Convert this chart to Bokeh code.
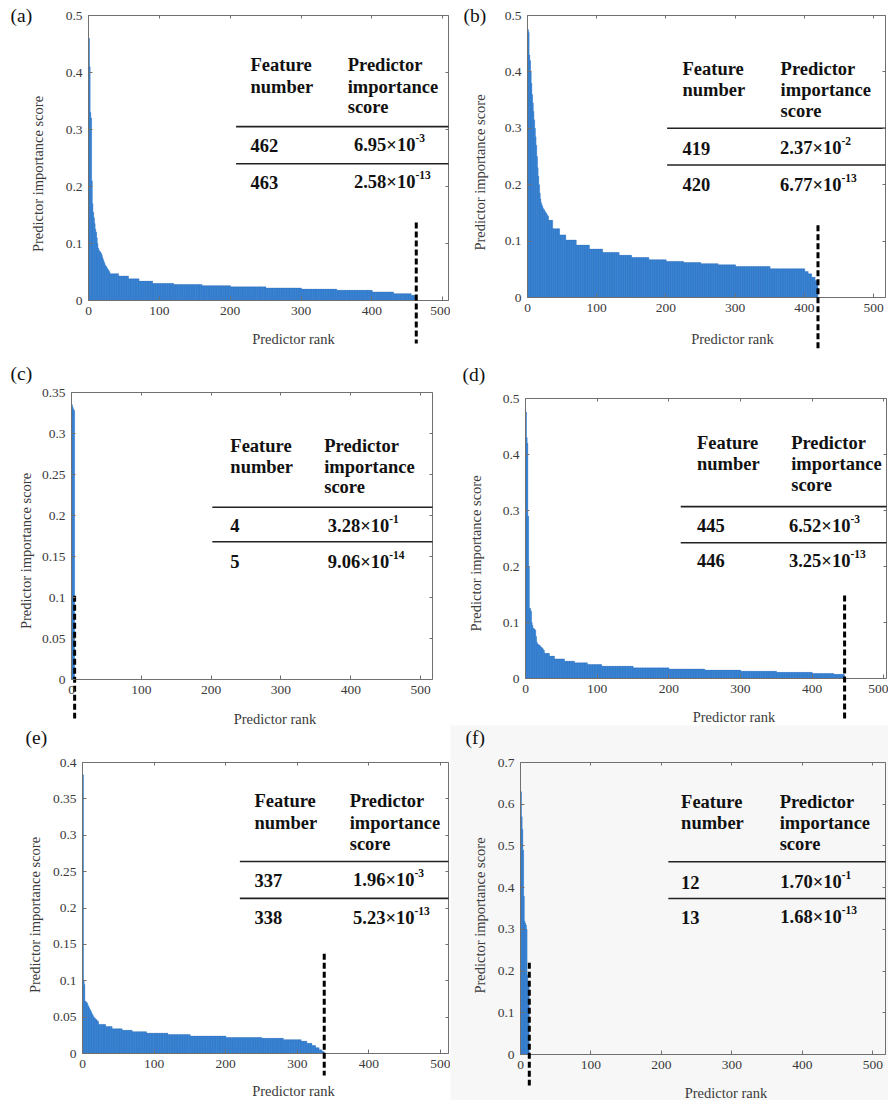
import numpy as np
from bokeh.plotting import figure
from bokeh.models import Label, LinearAxis, FixedTicker, Range1d, ColumnDataSource
from bokeh.layouts import column, row
from bokeh.embed import file_html
from bokeh.resources import INLINE

# ---------------- data ----------------
# bar heights: explicit values for the first ranks, then runs of (count, value) for the flat tail
head_a = [0.46, 0.41, 0.33, 0.32, 0.21, 0.17, 0.155, 0.145, 0.135, 0.125, 0.12, 0.11, 0.10, 0.092, 0.088,
          0.087, 0.085, 0.083, 0.08, 0.076, 0.072, 0.068, 0.065, 0.062, 0.06, 0.058, 0.056, 0.054, 0.052, 0.05]
run_counts_a = [12, 14, 15, 19, 30, 40, 40, 50, 50, 50, 50, 30, 25, 6, 1]
run_values_a = [0.047, 0.043, 0.038, 0.034, 0.030, 0.028, 0.026, 0.024, 0.022, 0.020, 0.018, 0.015, 0.012, 0.009, 0.00695]

head_b = [0.475, 0.47, 0.43, 0.42, 0.40, 0.38, 0.36, 0.345, 0.33, 0.315, 0.30, 0.285, 0.27, 0.25, 0.23,
          0.215, 0.20, 0.185, 0.175, 0.168, 0.164, 0.161, 0.158, 0.156, 0.154, 0.152, 0.150, 0.148, 0.146, 0.144]
run_counts_b = [6, 10, 9, 15, 19, 19, 24, 18, 25, 25, 25, 25, 25, 25, 50, 50, 5, 5, 5, 3, 1]
run_values_b = [0.137, 0.122, 0.111, 0.102, 0.093, 0.086, 0.080, 0.075, 0.071, 0.067, 0.064, 0.062, 0.060,
                0.058, 0.055, 0.051, 0.046, 0.042, 0.036, 0.030, 0.0237]

head_c = [0.335, 0.332, 0.330, 0.328]
run_counts_c = []
run_values_c = []

head_d = [0.476, 0.43, 0.42, 0.29, 0.2, 0.125, 0.125, 0.12, 0.10, 0.095, 0.09, 0.089, 0.088, 0.086, 0.075,
          0.065, 0.062, 0.061, 0.060, 0.059, 0.058, 0.056, 0.055, 0.054, 0.052, 0.05]
run_counts_d = [7, 7, 14, 14, 18, 20, 44, 50, 50, 50, 50, 50, 30, 14, 1]
run_values_d = [0.045, 0.040, 0.035, 0.031, 0.028, 0.025, 0.022, 0.019, 0.017, 0.015, 0.013, 0.011, 0.009,
                0.0075, 0.00652]

head_e = [0.383, 0.10, 0.095, 0.072, 0.071, 0.070, 0.069, 0.066, 0.064, 0.062, 0.060, 0.058, 0.056, 0.054,
          0.052, 0.050, 0.049, 0.048, 0.047, 0.046, 0.045, 0.044]
run_counts_e = [10, 9, 14, 14, 20, 30, 31, 50, 50, 30, 25, 8, 7, 5, 5, 4, 2, 1]
run_values_e = [0.040, 0.037, 0.034, 0.032, 0.030, 0.028, 0.026, 0.024, 0.022, 0.021, 0.019, 0.017, 0.014,
                0.011, 0.008, 0.005, 0.003, 0.00196]

head_f = [0.63, 0.57, 0.54, 0.49, 0.38, 0.32, 0.315, 0.31, 0.30, 0.19, 0.175, 0.170]
run_counts_f = []
run_values_f = []

# table contents
features_a = ["462", "463"]; mantissa_a = ["6.95", "2.58"]; exponent_a = ["-3", "-13"]
features_b = ["419", "420"]; mantissa_b = ["2.37", "6.77"]; exponent_b = ["-2", "-13"]
features_c = ["4", "5"];     mantissa_c = ["3.28", "9.06"]; exponent_c = ["-1", "-14"]
features_d = ["445", "446"]; mantissa_d = ["6.52", "3.25"]; exponent_d = ["-3", "-13"]
features_e = ["337", "338"]; mantissa_e = ["1.96", "5.23"]; exponent_e = ["-3", "-13"]
features_f = ["12", "13"];   mantissa_f = ["1.70", "1.68"]; exponent_f = ["-1", "-13"]

# axis ticks
x_ticks = [0, 100, 200, 300, 400, 500]
x_tick_labels = ["0", "100", "200", "300", "400", "500"]
y_ticks_05 = [0, 0.1, 0.2, 0.3, 0.4, 0.5]
y_labels_05 = ["0", "0.1", "0.2", "0.3", "0.4", "0.5"]
y_ticks_035 = [0, 0.05, 0.1, 0.15, 0.2, 0.25, 0.3, 0.35]
y_labels_035 = ["0", "0.05", "0.1", "0.15", "0.2", "0.25", "0.3", "0.35"]
y_ticks_04 = [0, 0.05, 0.1, 0.15, 0.2, 0.25, 0.3, 0.35, 0.4]
y_labels_04 = ["0", "0.05", "0.1", "0.15", "0.2", "0.25", "0.3", "0.35", "0.4"]
y_ticks_07 = [0, 0.1, 0.2, 0.3, 0.4, 0.5, 0.6, 0.7]
y_labels_07 = ["0", "0.1", "0.2", "0.3", "0.4", "0.5", "0.6", "0.7"]

letters = ["(a)", "(b)", "(c)", "(d)", "(e)", "(f)"]
x_title = "Predictor rank"
y_title = "Predictor importance score"

# ---------------- styling / layout ----------------
SERIF = "Liberation Serif"
BAR_FILL = "#1f8ff5"
BAR_EDGE = "#0c4a9c"
AXIS_C = "#707070"
LABEL_C = "#3a3a3a"
TICK_PX = 13.5


def expand(head, counts, values):
    return list(head) + list(np.repeat(values, counts)) if counts else list(head)


def label_width(labels):
    return max(sum(0.25 if ch == "." else 0.5 for ch in s) for s in labels) * TICK_PX


def make_panel(letter, heights, feats, mants, exps, yticks, ylabels, L):
    n = len(heights)
    W, H = L["W"], L["H"]
    bl, br, bt, bb = L["bl"], L["br"], L["bt"], L["bb"]
    xbox, ybox = L["xbox"], yticks[-1]
    sx = xbox / (br - bl)          # data units per pixel
    sy = ybox / (bb - bt)
    p = figure(width=W, height=H, output_backend="svg", toolbar_location=None, min_border=0,
               x_range=Range1d(-bl * sx, (W - bl) * sx),
               y_range=Range1d(-(H - bb) * sy, ybox + bt * sy),
               x_axis_location=None, y_axis_location=None)
    bg = L.get("bg", "white")
    p.background_fill_color = bg
    p.border_fill_color = bg
    p.outline_line_color = None
    p.xgrid.visible = False
    p.ygrid.visible = False

    src = ColumnDataSource(dict(x=list(range(1, n + 1)), top=heights))
    p.vbar(x="x", top="top", bottom=0, width=0.8, source=src,
           fill_color=BAR_FILL, line_color=BAR_EDGE, line_width=0.25)

    # axes box
    p.quad(left=[0], right=[xbox], bottom=[0], top=[ybox], fill_color=None, line_color=AXIS_C, line_width=1)

    common = dict(major_tick_line_color=AXIS_C, major_tick_in=4, major_tick_out=0,
                  minor_tick_line_color=None, axis_line_color=None,
                  major_label_text_font=SERIF, major_label_text_font_size=f"{TICK_PX}px",
                  major_label_text_color=LABEL_C, major_label_standoff=6,
                  axis_label_text_font=SERIF, axis_label_text_font_size="14.5px",
                  axis_label_text_font_style="normal", axis_label_text_color=LABEL_C)
    xax = LinearAxis(ticker=FixedTicker(ticks=x_ticks), fixed_location=0, bounds=(0, xbox), **common)
    xax.major_label_overrides = dict(zip(x_ticks, x_tick_labels))
    p.add_layout(xax, "below")
    # x title: an axis without ticks whose span is centred where the title sits
    xtitle = LinearAxis(ticker=FixedTicker(ticks=[]), fixed_location=0,
                        bounds=(2 * L["xshift"] * sx, xbox), axis_label=x_title,
                        axis_label_standoff=L["xlab"] - 8, major_label_standoff=0,
                        major_tick_in=0, major_tick_out=0, axis_line_color=None,
                        major_tick_line_color=None, minor_tick_line_color=None,
                        axis_label_text_font=SERIF, axis_label_text_font_size="14.5px",
                        axis_label_text_font_style="normal", axis_label_text_color=LABEL_C)
    p.add_layout(xtitle, "below")
    yax = LinearAxis(ticker=FixedTicker(ticks=yticks), fixed_location=0,
                     bounds=(-2 * L["yshift"] * sy, ybox),
                     axis_label=y_title,
                     axis_label_standoff=int(round(L["ylab"] - 6 - label_width(ylabels) - 8)), **common)
    yax.major_label_overrides = dict(zip(yticks, ylabels))
    p.add_layout(yax, "left")
    # inward ticks on the top and right edges
    top_ax = LinearAxis(ticker=FixedTicker(ticks=x_ticks), fixed_location=ybox, bounds=(0, xbox),
                        major_tick_line_color=AXIS_C, major_tick_in=3, major_tick_out=0,
                        minor_tick_line_color=None, axis_line_color=None, major_label_text_color=None)
    p.add_layout(top_ax, "above")
    right_ax = LinearAxis(ticker=FixedTicker(ticks=yticks), fixed_location=xbox, bounds=(0, ybox),
                          major_tick_line_color=AXIS_C, major_tick_in=3, major_tick_out=0,
                          minor_tick_line_color=None, axis_line_color=None, major_label_text_color=None)
    p.add_layout(right_ax, "right")

    # panel letter
    p.add_layout(Label(x=L["lx"], y=H - L["lyc"], x_units="screen", y_units="screen", text=letter,
                       text_font=SERIF, text_font_size="19.5px", text_color="#111",
                       text_align="left", text_baseline="middle"))

    # table
    T = L["tab"]
    X = lambda f: f * xbox
    Y = lambda f: (1 - f) * ybox
    bold = dict(text_font=SERIF, text_font_size="18.5px", text_font_style="bold", text_color="#111",
                text_baseline="middle")
    for txt, fx, fy in (("Feature", T["c1"], T["h1"]), ("number", T["c1"], T["h2"]),
                        ("Predictor", T["c2"], T["h1"]), ("importance", T["c2"], T["h2"]),
                        ("score", T["c2"], T["h3"])):
        p.add_layout(Label(x=X(fx), y=Y(fy), text=txt, text_align="left", **bold))
    p.segment(x0=[X(T["l0"])] * 2, x1=[xbox] * 2, y0=[Y(T["hl1"]), Y(T["hl2"])],
              y1=[Y(T["hl1"]), Y(T["hl2"])], line_color="#222", line_width=1.6)
    for k, fy in enumerate((T["r1"], T["r2"])):
        p.add_layout(Label(x=X(T["c1"]), y=Y(fy), text=feats[k], text_align="left", **bold))
        p.add_layout(Label(x=X(T["e"]), y=Y(fy), text=mants[k] + "×10", text_align="right", **bold))
        p.add_layout(Label(x=X(T["e"]), y=Y(fy), y_offset=7, text=exps[k], text_align="left",
                           text_font=SERIF, text_font_size="11.5px", text_font_style="bold",
                           text_color="#111", text_baseline="middle"))

    # dashed cut-off line after the last non-zero feature
    cut = int(feats[0]) + 0.5
    p.segment(x0=[cut], x1=[cut], y0=[L["dash_top"]], y1=[-L["dash_below"] * sy],
              line_color="black", line_width=3, line_dash="6 3")
    return p


TAB_A = dict(c1=0.45, c2=0.72, h1=0.175, h2=0.25, h3=0.32, l0=0.41, hl1=0.39, r1=0.456, hl2=0.52, r2=0.585, e=0.908)
TAB_B = dict(c1=0.433, c2=0.707, h1=0.19, h2=0.265, h3=0.34, l0=0.39, hl1=0.40, r1=0.47, hl2=0.53, r2=0.60, e=0.877)
TAB_C = dict(c1=0.44, c2=0.70, h1=0.185, h2=0.258, h3=0.33, l0=0.39, hl1=0.40, r1=0.465, hl2=0.52, r2=0.59, e=0.88)
TAB_D = dict(c1=0.475, c2=0.736, h1=0.16, h2=0.235, h3=0.31, l0=0.43, hl1=0.386, r1=0.455, hl2=0.515, r2=0.58, e=0.90)
TAB_E = dict(c1=0.47, c2=0.73, h1=0.134, h2=0.207, h3=0.28, l0=0.43, hl1=0.34, r1=0.405, hl2=0.467, r2=0.533, e=0.907)
TAB_F = dict(c1=0.44, c2=0.71, h1=0.134, h2=0.207, h3=0.28, l0=0.405, hl1=0.34, r1=0.41, hl2=0.466, r2=0.53, e=0.88)

LAY = [
    dict(W=450, H=360, bl=88, br=448, bt=15, bb=300, xbox=508, lx=10, lyc=15, dash_top=0.137, dash_below=43,
         ylab=48, yshift=16, xlab=38, xshift=25, tab=TAB_A),
    dict(W=438, H=360, bl=77, br=435, bt=15, bb=297, xbox=517, lx=13, lyc=15, dash_top=0.128, dash_below=51,
         ylab=45, yshift=16, xlab=41, xshift=26, tab=TAB_B),
    dict(W=450, H=365, bl=71, br=432, bt=32, bb=319, xbox=517, lx=10, lyc=13, dash_top=0.102, dash_below=39,
         ylab=43, yshift=15, xlab=39, xshift=23, tab=TAB_C),
    dict(W=438, H=365, bl=75, br=436, bt=38, bb=318, xbox=504, lx=12, lyc=14, dash_top=0.148, dash_below=40,
         ylab=47, yshift=15, xlab=38, xshift=28, tab=TAB_D),
    dict(W=450, H=375, bl=82, br=448, bt=37, bb=328, xbox=511, lx=25, lyc=12, dash_top=0.137, dash_below=22,
         ylab=45, yshift=7, xlab=37, xshift=28, tab=TAB_E),
    dict(W=438, H=375, bl=70, br=435, bt=37, bb=329, xbox=518, lx=15, lyc=12, dash_top=0.22, dash_below=31,
         ylab=38, yshift=7, xlab=38, xshift=23, tab=TAB_F, bg="#f7f7f7"),
]

series = [
    (expand(head_a, run_counts_a, run_values_a), features_a, mantissa_a, exponent_a, y_ticks_05, y_labels_05),
    (expand(head_b, run_counts_b, run_values_b), features_b, mantissa_b, exponent_b, y_ticks_05, y_labels_05),
    (expand(head_c, run_counts_c, run_values_c), features_c, mantissa_c, exponent_c, y_ticks_035, y_labels_035),
    (expand(head_d, run_counts_d, run_values_d), features_d, mantissa_d, exponent_d, y_ticks_05, y_labels_05),
    (expand(head_e, run_counts_e, run_values_e), features_e, mantissa_e, exponent_e, y_ticks_04, y_labels_04),
    (expand(head_f, run_counts_f, run_values_f), features_f, mantissa_f, exponent_f, y_ticks_07, y_labels_07),
]

figs = [make_panel(letters[i], *series[i], LAY[i]) for i in range(6)]
layout = column(row(figs[0], figs[1], spacing=0), row(figs[2], figs[3], spacing=0),
                row(figs[4], figs[5], spacing=0), spacing=0)

open("out.html", "w").write(file_html(layout, INLINE))
